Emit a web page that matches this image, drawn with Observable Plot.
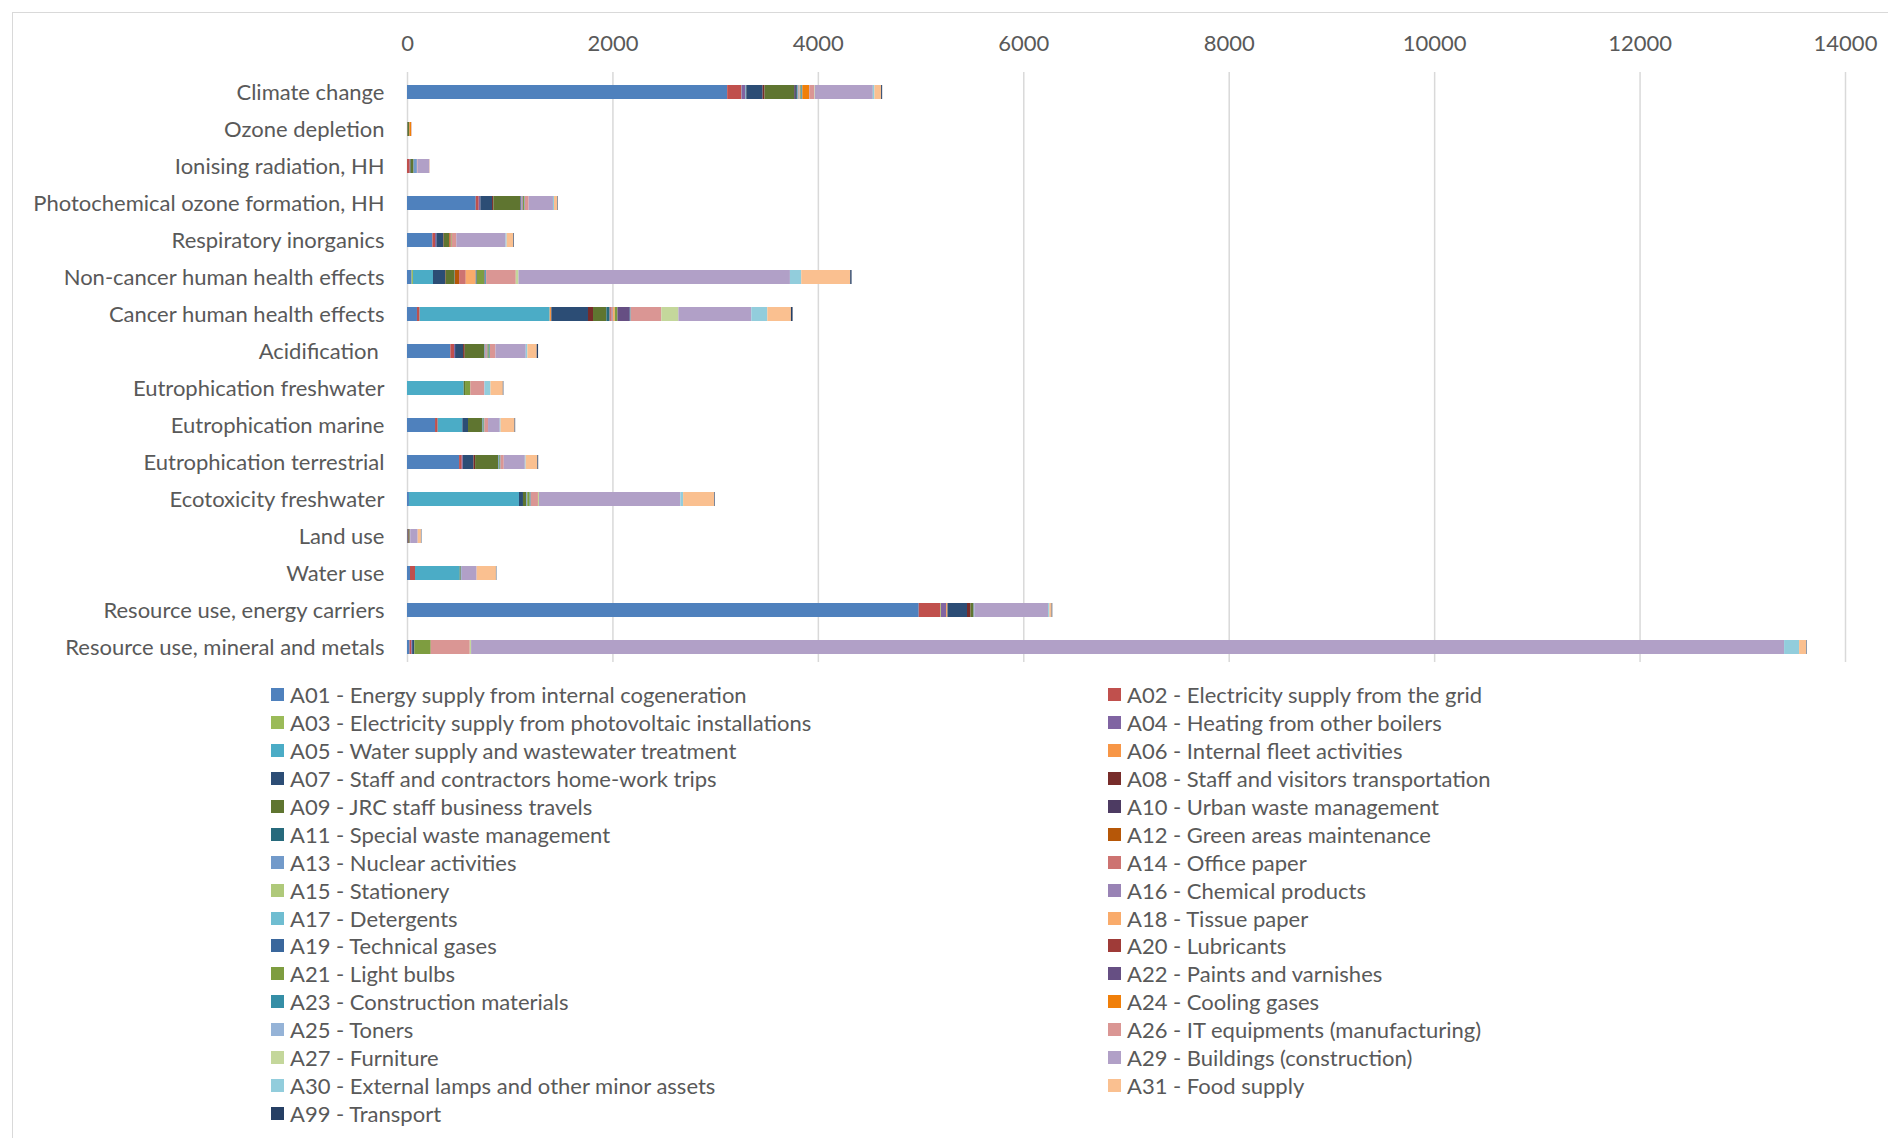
<!DOCTYPE html>
<html>
<head>
<meta charset="utf-8">
<script src="https://cdn.jsdelivr.net/npm/d3@7"></script>
<script src="https://cdn.jsdelivr.net/npm/@observablehq/plot@0.6"></script>
<style>
  html, body { margin: 0; padding: 0; background: #fff; }
  body { width: 1888px; height: 1138px; overflow: hidden; position: relative; font-family: Lato, "Open Sans", sans-serif; color: #595959; }
  #frame { position: absolute; left: 12px; top: 12px; width: 1900px; height: 1200px; border: 1px solid #D9D9D9; box-sizing: border-box; }
  #chart { position: absolute; left: 0; top: 0; }
  #legend { position: absolute; left: 271px; top: 681px; display: grid; grid-template-columns: 837px 700px; grid-auto-rows: 27.9px; font-size: 22px; }
  .item { display: flex; align-items: center; white-space: nowrap; }
  .sw { width: 13px; height: 13px; margin-right: 6px; flex: none; }
</style>
</head>
<body>
<div id="frame"></div>
<div id="chart"></div>
<div id="legend"></div>
<script>
// Impact categories (top to bottom)
const categories = [
  "Climate change",
  "Ozone depletion",
  "Ionising radiation, HH",
  "Photochemical ozone formation, HH",
  "Respiratory inorganics",
  "Non-cancer human health effects",
  "Cancer human health effects",
  "Acidification\u00A0",
  "Eutrophication freshwater",
  "Eutrophication marine",
  "Eutrophication terrestrial",
  "Ecotoxicity freshwater",
  "Land use",
  "Water use",
  "Resource use, energy carriers",
  "Resource use, mineral and metals"
];

// Series (stack order)
const seriesCodes = ["A01","A02","A03","A04","A05","A06","A07","A08","A09","A10","A11","A12","A13","A14","A15","A16","A17","A18","A19","A20","A21","A22","A23","A24","A25","A26","A27","A29","A30","A31","A99"];
const seriesNames = [
  "A01 - Energy supply from internal cogeneration",
  "A02 - Electricity supply from the grid",
  "A03 - Electricity supply from photovoltaic installations",
  "A04 - Heating from other boilers",
  "A05 - Water supply and wastewater treatment",
  "A06 - Internal fleet activities",
  "A07 - Staff and contractors home-work trips",
  "A08 - Staff and visitors transportation",
  "A09 - JRC staff business travels",
  "A10 - Urban waste management",
  "A11 - Special waste management",
  "A12 - Green areas maintenance",
  "A13 - Nuclear activities",
  "A14 - Office paper",
  "A15 - Stationery",
  "A16 - Chemical products",
  "A17 - Detergents",
  "A18 - Tissue paper",
  "A19 - Technical gases",
  "A20 - Lubricants",
  "A21 - Light bulbs",
  "A22 - Paints and varnishes",
  "A23 - Construction materials",
  "A24 - Cooling gases",
  "A25 - Toners",
  "A26 - IT equipments (manufacturing)",
  "A27 - Furniture",
  "A29 - Buildings (construction)",
  "A30 - External lamps and other minor assets",
  "A31 - Food supply",
  "A99 - Transport"
];
const seriesColors = [
  "#4F81BD","#C0504D","#9BBB59","#8064A2","#4BACC6","#F79646",
  "#2C4D75","#772C2A","#5F7530","#4D3B62","#276A7C","#B65708",
  "#729ACA","#CD7371","#AFC97A","#9983B5","#6FBDD1","#F9AB6B",
  "#3A679C","#9F3B38","#7E9D40","#664F83","#358EA6","#F07F09",
  "#95B3D7","#DA9694","#C4D79B","#B1A0C7","#92CDDC","#FAC090",
  "#263F64"
];

// Values per category, in seriesCodes order
const climateChange     = [3117,136,3,39,5,3, 159,19,289,16,10,3, 8,5,3,5,3,3, 3,2,5,3,10,65, 2,49,5,565,16,65, 10];
const ozoneDepletion    = [1,2,0,0,0,0, 2,0,17,0,0,0, 0,2,0,0,0,0, 0,0,0,0,0,16, 0,2,0,3,0,2, 0];
const ionisingRadiation = [0,26,0,3,0,0, 6,0,29,0,0,0, 32,0,0,3,0,0, 0,0,0,0,0,0, 0,5,0,114,0,3, 0];
const photochemical     = [669,29,0,16,0,0, 114,13,260,5,5,0, 5,5,0,8,0,0, 0,0,10,0,6,0, 0,39,0,237,10,32, 5];
const respiratory       = [247,26,0,13,0,0, 65,6,52,0,0,8, 0,10,0,0,0,0, 0,0,8,0,0,0, 0,45,0,480,10,65, 6];
const nonCancer         = [45,0,13,0,195,0, 117,6,84,0,5,42, 0,65,0,0,0,97, 10,0,75,8,8,0, 0,289,26,2643,110,477, 13];
const cancer            = [97,26,0,0,1266,16, 357,49,130,0,32,0, 0,20,0,10,0,20, 0,0,26,120,8,0, 0,299,166,710,156,230, 16];
const acidification     = [422,36,0,10,0,0, 78,16,192,0,0,0, 10,10,0,10,0,0, 0,0,12,0,10,0, 0,55,0,295,16,91, 13];
const eutroFreshwater   = [0,0,0,0,552,0, 0,0,13,0,0,0, 0,0,0,0,0,0, 0,0,52,0,0,0, 0,133,0,5,58,120, 5];
const eutroMarine       = [273,26,0,0,240,0, 55,0,136,0,0,0, 8,0,0,0,0,0, 0,0,8,0,7,0, 0,36,0,114,8,136, 6];
const eutroTerrestrial  = [507,26,0,10,0,0, 104,16,224,0,0,0, 8,0,0,0,0,0, 0,0,8,0,7,0, 0,32,0,205,8,114, 8];
const ecotoxFreshwater  = [19,0,0,0,1071,0, 39,0,32,0,0,0, 10,0,0,0,0,0, 0,0,23,0,10,0, 0,71,10,1377,26,302, 6];
const landUse           = [6,0,0,0,0,0, 0,10,10,0,0,0, 0,0,0,6,0,0, 0,0,0,0,0,0, 0,0,0,72,0,32, 4];
const waterUse          = [29,49,0,0,435,0, 0,0,10,0,0,0, 9,0,0,0,0,0, 0,0,0,0,0,0, 0,0,0,146,0,188, 4];
const energyCarriers    = [4982,211,6,51,0,12, 190,34,30,0,0,0, 8,0,0,0,0,0, 0,0,0,0,0,0, 0,0,0,718,12,22, 6];
const mineralMetals     = [25,17,0,8,0,0, 21,0,0,0,0,0, 0,0,0,0,0,0, 0,0,160,0,0,0, 0,380,13,12783,146,68, 5];

const xTicks = [0,2000,4000,6000,8000,10000,12000,14000];

const rowsByCategory = [climateChange, ozoneDepletion, ionisingRadiation, photochemical, respiratory, nonCancer, cancer, acidification, eutroFreshwater, eutroMarine, eutroTerrestrial, ecotoxFreshwater, landUse, waterUse, energyCarriers, mineralMetals];

const data = [];
categories.forEach((c, i) => {
  rowsByCategory[i].forEach((v, j) => {
    data.push({category: c, series: seriesCodes[j], value: v});
  });
});

const chart = Plot.plot({
  width: 1888,
  height: 680,
  marginLeft: 407,
  marginRight: 43,
  marginTop: 72,
  marginBottom: 12,
  style: {fontFamily: "Lato, 'Open Sans', sans-serif", fontSize: "22px", color: "#595959", background: "transparent"},
  x: {domain: [0, 14000], axis: null, label: null},
  y: {domain: categories, paddingInner: 0.61, paddingOuter: 0.305, axis: null, label: null},
  color: {domain: seriesCodes, range: seriesColors},
  marks: [
    Plot.ruleX(xTicks, {stroke: "#D9D9D9", strokeWidth: 1.5, insetBottom: 6}),
    Plot.axisX({anchor: "top", ticks: xTicks, tickSize: 0, tickPadding: 22, tickFormat: d => String(d), fontSize: 22, fill: "#595959", label: null}),
    Plot.axisY({anchor: "left", tickSize: 0, tickPadding: 23, fontSize: 22, fill: "#595959", label: null}),
    Plot.barX(data, {x: "value", y: "category", fill: "series", order: null})
  ]
});
document.getElementById("chart").appendChild(chart);

const legend = document.getElementById("legend");
seriesNames.forEach((name, i) => {
  const item = document.createElement("div");
  item.className = "item";
  const sw = document.createElement("span");
  sw.className = "sw";
  sw.style.background = seriesColors[i];
  const t = document.createElement("span");
  t.textContent = name;
  item.appendChild(sw);
  item.appendChild(t);
  legend.appendChild(item);
});
</script>
</body>
</html>
